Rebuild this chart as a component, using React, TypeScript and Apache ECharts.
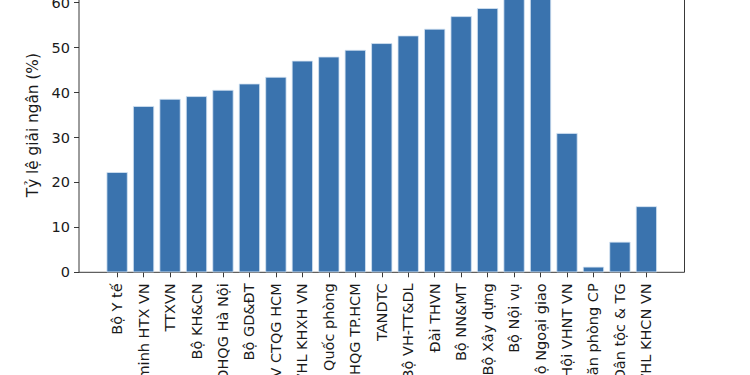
import React, { useEffect, useRef } from "react";
import * as echarts from "echarts";

const categories: string[] = [
  "Bộ Y tế",
  "Liên minh HTX VN",
  "TTXVN",
  "Bộ KH&CN",
  "ĐHQG Hà Nội",
  "Bộ GD&ĐT",
  "HV CTQG HCM",
  "VHL KHXH VN",
  "Bộ Quốc phòng",
  "ĐHQG TP.HCM",
  "TANDTC",
  "Bộ VH-TT&DL",
  "Đài THVN",
  "Bộ NN&MT",
  "Bộ Xây dựng",
  "Bộ Nội vụ",
  "Bộ Ngoại giao",
  "Liên hiệp các Hội VHNT VN",
  "Văn phòng CP",
  "Bộ Dân tộc & TG",
  "VHL KHCN VN",
];

const values: number[] = [
  22.3, 37.0, 38.6, 39.2, 40.6, 42.0, 43.5, 47.1, 48.0, 49.5, 51.0, 52.7, 54.2,
  57.0, 58.8, 62.0, 62.4, 31.0, 1.25, 6.8, 14.7,
];

const yTicks: number[] = [0, 10, 20, 30, 40, 50, 60];
const yName = "Tỷ lệ giải ngân (%)";

export default function App() {
  const ref = useRef<HTMLDivElement>(null);
  useEffect(() => {
    if (!ref.current) return;
    const chart = echarts.init(ref.current, undefined, { renderer: "svg" });
    const yMax = 65.5;
    const font = "DejaVu Sans";
    const textColor = "#1a1a1a";
    const n = categories.length;
    const axLeft = 79;
    const axRight = 684.5;
    const span = n - 1 + 0.8;
    const xlimRange = span * 1.1;
    const unit = (axRight - axLeft) / xlimRange;
    const margin = (xlimRange - n) / 2;
    const innerLeft = axLeft + margin * unit;
    const innerRight = axRight - margin * unit;
    const bottom = 375 - 272.3;
    const pxPerUnit = 4.493;
    const top = 272.3 - yMax * pxPerUnit;

    chart.setOption({
      animation: false,
      backgroundColor: "#ffffff",
      grid: [
        {
          left: axLeft,
          right: 750 - axRight,
          top: top,
          bottom: bottom,
          show: true,
          borderColor: "#222",
          borderWidth: 0.9,
          backgroundColor: "transparent",
          containLabel: false,
          outerBoundsMode: "none",
        },
        {
          left: innerLeft,
          right: 750 - innerRight,
          top: top,
          bottom: bottom,
          containLabel: false,
          outerBoundsMode: "none",
        },
      ],
      xAxis: [
        {
          type: "value",
          gridIndex: 0,
          show: false,
          min: 0,
          max: 1,
        },
        {
          type: "category",
          gridIndex: 1,
          data: categories,
          boundaryGap: true,
          axisLine: { show: false },
          axisTick: {
            show: true,
            alignWithLabel: true,
            length: 5,
            lineStyle: { color: "#222", width: 0.9 },
          },
          axisLabel: {
            rotate: 90,
            interval: 0,
            margin: 11,
            fontFamily: font,
            fontSize: 14.5,
            color: textColor,
            hideOverlap: false,
          },
          splitLine: { show: false },
        },
      ],
      yAxis: [
        {
          type: "value",
          gridIndex: 0,
          min: 0,
          max: yMax,
          interval: 10,
          axisLine: { show: false },
          axisTick: {
            show: true,
            length: 5,
            lineStyle: { color: "#222", width: 0.9 },
          },
          axisLabel: {
            margin: 9,
            fontFamily: font,
            fontSize: 14.5,
            color: textColor,
            formatter: (v: number) => (yTicks.includes(v) ? String(v) : ""),
          },
          splitLine: { show: false },
          name: yName,
          nameLocation: "middle",
          nameGap: 33,
          nameRotate: 90,
          nameTextStyle: {
            fontFamily: font,
            fontSize: 15.3,
            color: textColor,
          },
        },
        {
          type: "value",
          gridIndex: 1,
          min: 0,
          max: yMax,
          show: false,
        },
      ],
      series: [
        {
          type: "bar",
          xAxisIndex: 1,
          yAxisIndex: 1,
          data: values,
          barWidth: "80%",
          itemStyle: {
            color: "#3a73ae",
            borderColor: "#d4e3f2",
            borderWidth: 0.8,
          },
        },
      ],
    });
    return () => chart.dispose();
  }, []);
  return <div ref={ref} style={{ width: 750, height: 375, position: "absolute", left: 0, top: 0 }} />;
}
